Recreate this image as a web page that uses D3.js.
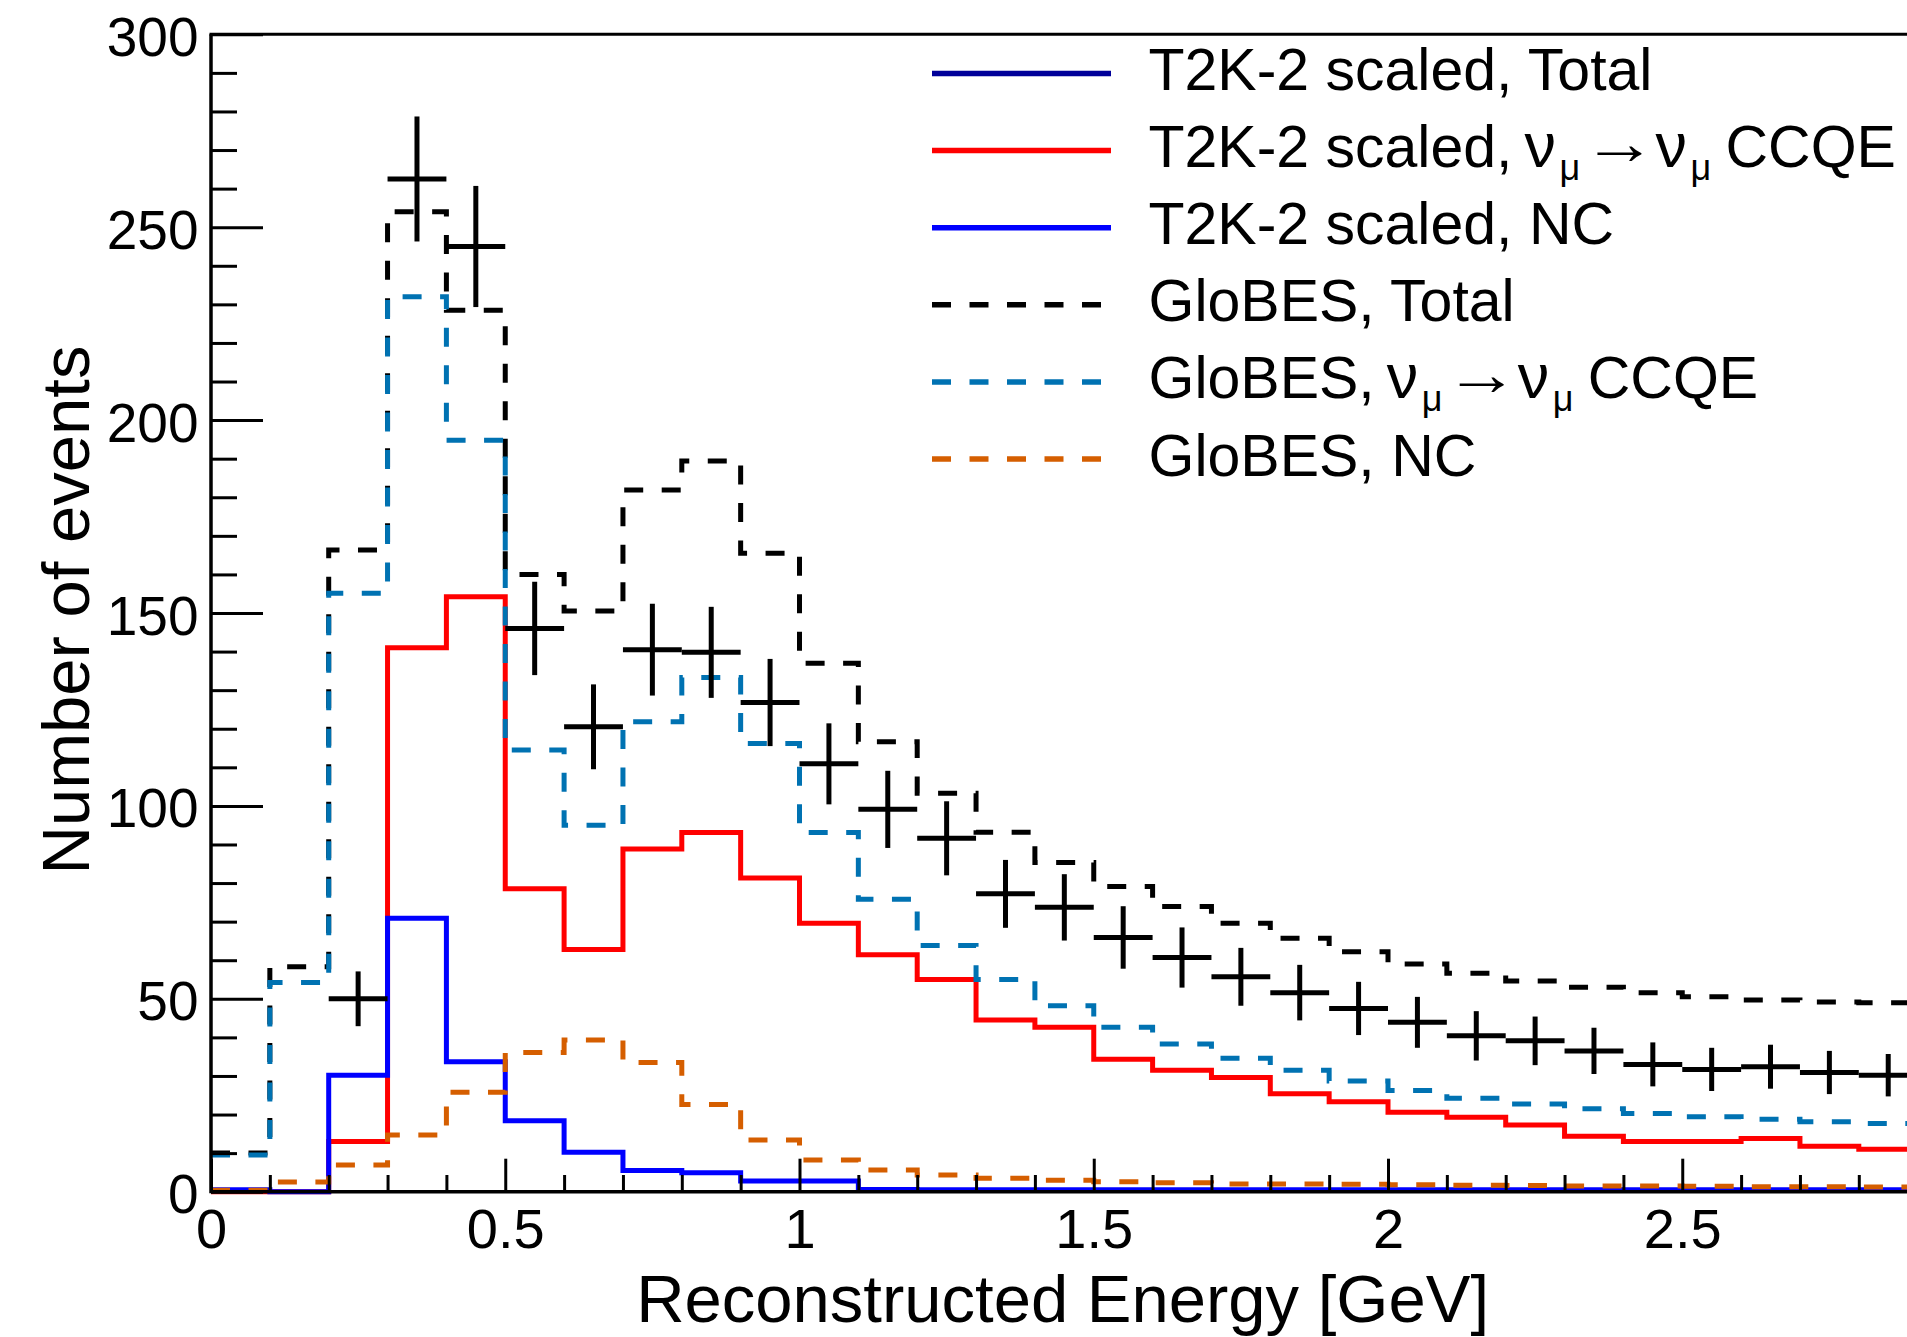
<!DOCTYPE html>
<html><head><meta charset="utf-8">
<script src="https://cdn.jsdelivr.net/npm/d3@7"></script>
<style>
body{margin:0;background:#fff}
svg{display:block}
text{font-family:"Liberation Sans",Arial,Helvetica,sans-serif;fill:#000}
</style>
</head><body>
<svg id="chart" width="1907" height="1337"></svg>
<script>
// ---------- DATA ----------
const binLow = [0.0,0.1,0.2,0.3,0.4,0.5,0.6,0.7,0.8,0.9,1.0,1.1,1.2,1.3,1.4,1.5,1.6,1.7,1.8,1.9,2.0,2.1,2.2,2.3,2.4,2.5,2.6,2.7,2.8];
const binWidth = 0.1;

const globesTotal = [10.0,58.3,166.3,254.0,228.5,160.0,150.5,181.9,189.4,165.5,137.0,116.6,103.3,93.2,85.3,79.1,73.9,69.6,65.7,62.2,59.0,56.6,54.6,53.0,51.6,50.5,49.7,49.2,49.0];
const globesCCQE  = [9.5,54.2,155.1,232.0,194.8,114.5,95.0,121.8,133.3,116.2,93.1,75.8,63.8,55.0,48.2,42.6,38.3,34.6,31.5,28.7,26.2,24.2,22.7,21.5,20.3,19.4,18.8,18.1,17.7];
const globesNC    = [0.4,2.5,6.9,14.7,25.8,36.1,39.3,33.5,22.6,13.4,8.2,5.6,4.3,3.5,3.0,2.6,2.3,2.0,2.0,1.9,1.8,1.7,1.6,1.5,1.5,1.4,1.3,1.3,1.2];
const t2kCCQE     = [0.0,0.0,13.0,141.0,154.2,78.5,62.8,88.8,93.1,81.3,69.6,61.4,55.0,44.5,42.6,34.3,31.5,29.6,25.4,23.3,20.6,19.3,17.3,14.4,13.0,13.0,13.8,11.8,11.0];
const t2kNC       = [0.5,0.0,30.2,70.9,33.7,18.4,10.2,5.5,4.9,2.8,2.8,0.6,0.5,0.5,0.5,0.5,0.5,0.5,0.5,0.5,0.5,0.5,0.5,0.5,0.5,0.5,0.5,0.5,0.5];
// T2K-2 scaled total: points with error bars (null = no point drawn)
const t2kTotal    = [null,null,50.0,262.5,245.0,146.0,120.5,140.5,139.8,126.8,110.9,99.1,91.6,77.2,73.7,65.9,60.7,55.7,51.6,47.5,43.9,40.4,39.1,36.5,33.0,31.7,32.4,30.9,30.2];
const t2kTotalErr = [null,null,7.1,16.2,15.7,12.1,11.0,11.9,11.8,11.3,10.5,10.0,9.6,8.8,8.6,8.1,7.8,7.5,7.2,6.9,6.6,6.4,6.3,6.0,5.7,5.6,5.7,5.6,5.5];

const xMajorTicks = [0,0.5,1,1.5,2,2.5];
const xTickLabels = ["0","0.5","1","1.5","2","2.5"];
const yMajorTicks = [0,50,100,150,200,250,300];
const yTickLabels = ["0","50","100","150","200","250","300"];

// legend: plain prefix text, plus whether the "ν_μ → ν_μ CCQE" part follows
const legendPrefix = ["T2K-2 scaled, Total","T2K-2 scaled,","T2K-2 scaled, NC","GloBES, Total","GloBES,","GloBES, NC"];
const legendHasOsc = [false,true,false,false,true,false];
const xTitle = "Reconstructed Energy [GeV]";
const yTitle = "Number of events";

// ---------- LAYOUT ----------
const svg = d3.select("#chart");
const X0 = 211, Y0 = 1191.7, YTOP = 34.3, PXPERGEV = 588.5;
const x = d3.scaleLinear().domain([0,3]).range([X0, X0 + 3*PXPERGEV]);
const y = d3.scaleLinear().domain([0,300]).range([Y0, YTOP]);

const colors = {
  navy:"#000099", red:"#ff0000", blue:"#0000ff",
  black:"#000000", lblue:"#0072b2", orange:"#d55e00"
};
const DASH = "19,18.5";

// ---------- HISTOGRAMS ----------
function histPoints(vals){
  const pts = binLow.map((b,i)=>[b, vals[i]]);
  pts.push([binLow[binLow.length-1]+binWidth, vals[vals.length-1]]);
  return pts;
}
const stepLine = d3.line().x(d=>x(d[0])).y(d=>y(d[1])).curve(d3.curveStepAfter);

const gH = svg.append("g").attr("fill","none");
const series = [
  {vals:globesTotal, color:colors.black,  dash:DASH},
  {vals:t2kCCQE,     color:colors.red,    dash:null},
  {vals:t2kNC,       color:colors.blue,   dash:null},
  {vals:globesCCQE,  color:colors.lblue,  dash:DASH},
  {vals:globesNC,    color:colors.orange, dash:DASH}
];
series.forEach(s=>{
  gH.append("path")
    .attr("d", stepLine(histPoints(s.vals)))
    .attr("stroke", s.color)
    .attr("stroke-width", 5)
    .attr("stroke-dasharray", s.dash)
    .attr("stroke-linejoin","miter");
});

// ---------- DATA POINTS (crosses) ----------
const pts = binLow.map((b,i)=>({lo:b, hi:b+binWidth, v:t2kTotal[i], e:t2kTotalErr[i]})).filter(d=>d.v!==null);
const gP = svg.append("g").attr("stroke","#000").attr("stroke-width",5);
gP.selectAll("line.h").data(pts).join("line").attr("class","h")
  .attr("x1",d=>x(d.lo)).attr("x2",d=>x(d.hi)).attr("y1",d=>y(d.v)).attr("y2",d=>y(d.v));
gP.selectAll("line.v").data(pts).join("line").attr("class","v")
  .attr("x1",d=>x((d.lo+d.hi)/2)).attr("x2",d=>x((d.lo+d.hi)/2))
  .attr("y1",d=>y(d.v-d.e)).attr("y2",d=>y(d.v+d.e));

// ---------- AXES ----------
const yMinor = d3.range(0,301,10).filter(v=>v%50!==0);
const xMinor = d3.range(0,30,1).map(v=>v/10).filter(v=>Math.round(v*10)%5!==0);

const gy = svg.append("g").attr("transform",`translate(${X0},0)`);
gy.call(d3.axisLeft(y).tickValues(yMajorTicks).tickSizeInner(-52).tickSizeOuter(0).tickPadding(12.5)
  .tickFormat((d,i)=>yTickLabels[i]));
gy.select(".domain").remove();
gy.selectAll(".tick line").attr("stroke","#000").attr("stroke-width",3);
gy.selectAll(".tick text").attr("font-size",55).attr("font-family",'"Liberation Sans",Arial,sans-serif')
  .attr("dy",null).attr("y",21);
const gym = svg.append("g").attr("transform",`translate(${X0},0)`);
gym.call(d3.axisLeft(y).tickValues(yMinor).tickSizeInner(-26).tickSizeOuter(0).tickFormat(""));
gym.select(".domain").remove();
gym.selectAll(".tick line").attr("stroke","#000").attr("stroke-width",3);

const gx = svg.append("g").attr("transform",`translate(0,${Y0})`);
gx.call(d3.axisBottom(x).tickValues(xMajorTicks).tickSizeInner(-33).tickSizeOuter(0)
  .tickFormat((d,i)=>xTickLabels[i]));
gx.select(".domain").remove();
gx.selectAll(".tick line").attr("stroke","#000").attr("stroke-width",3);
gx.selectAll(".tick text").attr("font-size",56).attr("font-family",'"Liberation Sans",Arial,sans-serif')
  .attr("dy",null).attr("y",56.5);
const gxm = svg.append("g").attr("transform",`translate(0,${Y0})`);
gxm.call(d3.axisBottom(x).tickValues(xMinor).tickSizeInner(-16.7).tickSizeOuter(0).tickFormat(""));
gxm.select(".domain").remove();
gxm.selectAll(".tick line").attr("stroke","#000").attr("stroke-width",3);

// frame lines
svg.append("line").attr("x1",X0).attr("x2",1907+5).attr("y1",Y0).attr("y2",Y0).attr("stroke","#000").attr("stroke-width",3.5);
svg.append("line").attr("x1",X0).attr("x2",X0).attr("y1",YTOP).attr("y2",Y0+1.5).attr("stroke","#000").attr("stroke-width",3.5);
svg.append("line").attr("x1",X0-1.5).attr("x2",1907+5).attr("y1",YTOP).attr("y2",YTOP).attr("stroke","#000").attr("stroke-width",3);

// titles
svg.append("text").attr("x",1489).attr("y",1321.7).attr("text-anchor","end")
  .attr("font-size",67).text(xTitle);
svg.append("text").attr("transform","translate(89,610) rotate(-90)").attr("text-anchor","middle")
  .attr("font-size",67).text(yTitle);

// ---------- LEGEND ----------
const legendStyle = [
  {color:colors.navy, dash:null},
  {color:colors.red, dash:null},
  {color:colors.blue, dash:null},
  {color:colors.black, dash:DASH},
  {color:colors.lblue, dash:DASH},
  {color:colors.orange, dash:DASH}
];
const LX1 = 932, LX2 = 1111, TX = 1148.5, BASE0 = 90, ROWH = 77.1, FS = 59;
const SERIF = '"Liberation Serif","Times New Roman",serif';
const gL = svg.append("g");
legendPrefix.forEach((lab,i)=>{
  const by = BASE0 + i*ROWH;
  gL.append("line").attr("x1",LX1).attr("x2",LX2).attr("y1",by-16.5).attr("y2",by-16.5)
    .attr("stroke",legendStyle[i].color).attr("stroke-width",5.5)
    .attr("stroke-dasharray",legendStyle[i].dash);
  const t = gL.append("text").attr("x",TX).attr("y",by).attr("font-size",FS).text(lab);
  if(legendHasOsc[i]){
    const nx = TX + t.node().getComputedTextLength() + 12;
    const nu = (xx)=>gL.append("text").attr("x",xx).attr("y",by).attr("font-size",63).attr("font-family",SERIF).text("\u03BD");
    const mu = (xx)=>gL.append("text").attr("x",xx).attr("y",by+13).attr("font-size",36).attr("font-family",SERIF).text("\u03BC");
    nu(nx); mu(nx+35);
    gL.append("text").attr("transform",`translate(${nx+58},${by-3}) scale(1.2,1)`)
      .attr("font-size",62).attr("font-family",'"DejaVu Sans",sans-serif').text("\u2192");
    nu(nx+131); mu(nx+166);
    gL.append("text").attr("x",nx+201).attr("y",by).attr("font-size",FS).text("CCQE");
  }
});
</script>
</body></html>
